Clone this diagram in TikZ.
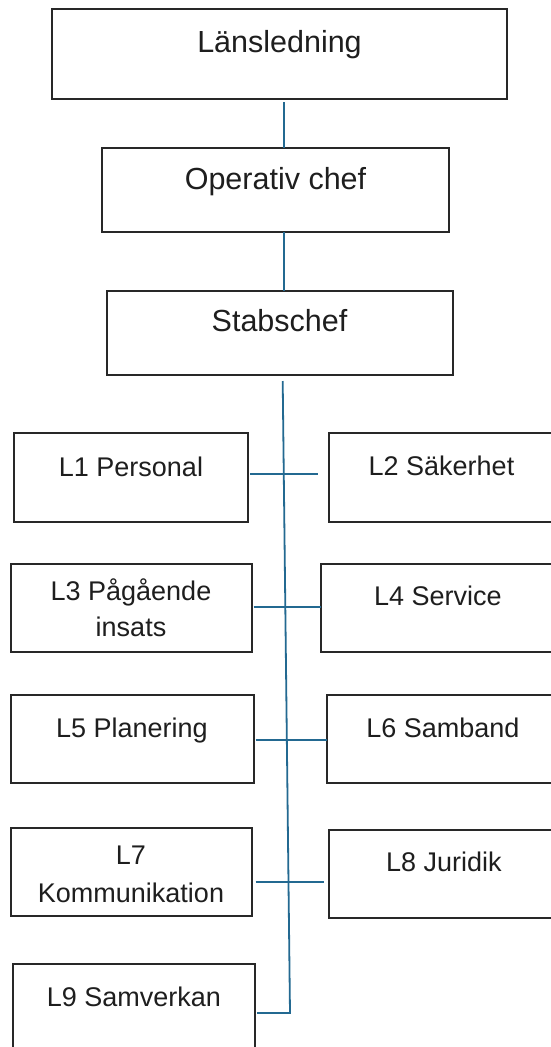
\documentclass[tikz,border=0pt]{standalone}
\usepackage{fontspec}
\setmainfont{Liberation Sans}
\definecolor{connc}{RGB}{35,105,145}
\definecolor{edgec}{RGB}{40,40,40}
\definecolor{inkc}{RGB}{30,30,30}
\begin{document}
\begin{tikzpicture}[x=1pt,y=-1pt,
  box/.style={draw=edgec, line width=2pt, rectangle, inner sep=0pt, outer sep=0pt, minimum height=88pt},
  bigtxt/.style={font=\fontsize{30.5}{36}\selectfont, text=inkc, anchor=base, inner sep=0pt},
  smalltxt/.style={font=\fontsize{27}{37.5}\selectfont, text=inkc, anchor=base, inner sep=0pt, align=center},
  link/.style={draw=connc, line width=1.8pt}]
\useasboundingbox (0,0) rectangle (551,1047);
\fill[white] (0,0) rectangle (551,1047);

% top chain
\node[box, minimum width=455pt, minimum height=90pt] (lan) at (279.5,54) {};
\node[bigtxt] (lant) at (279.5,52.3) {Länsledning};
\node[box, minimum width=347pt, minimum height=84pt] (op) at (275.5,190) {};
\node[bigtxt] (opt) at (275.5,189) {Operativ chef};
\node[box, minimum width=346pt, minimum height=84pt] (st) at (279.5,333) {};
\node[bigtxt] (stt) at (279.5,331) {Stabschef};

% left column
\node[box, minimum width=234pt, minimum height=89pt] (l1) at (131,477.5) {};
\node[smalltxt] (l1t) at (131,476) {L1 Personal};
\node[box, minimum width=241pt] (l3) at (131,608) {};
\node[smalltxt, font=\fontsize{27}{36.7}\selectfont] (l3t) at (131,636.7) {L3 Pågående\\insats};
\node[box, minimum width=243pt] (l5) at (132,739) {};
\node[smalltxt] (l5t) at (132,737.3) {L5 Planering};
\node[box, minimum width=241pt] (l7) at (131,872) {};
\node[smalltxt, font=\fontsize{27}{38.7}\selectfont] (l7t) at (131,902.7) {L7\\Kommunikation};
\node[box, minimum width=242.4pt] (l9) at (133.8,1008) {};
\node[smalltxt] (l9t) at (133.8,1006.7) {L9 Samverkan};

% right column
\node[box, minimum width=225pt, minimum height=89pt] (l2) at (441.5,477.5) {};
\node[smalltxt] (l2t) at (441.5,475) {L2 Säkerhet};
\node[box, minimum width=234pt] (l4) at (438,608) {};
\node[smalltxt] (l4t) at (438,605.7) {L4 Service};
\node[box, minimum width=232pt] (l6) at (443,739) {};
\node[smalltxt] (l6t) at (443,737.3) {L6 Samband};
\node[box, minimum width=230pt] (l8) at (444,874) {};
\node[smalltxt] (l8t) at (444,871.7) {L8 Juridik};

% connectors
\coordinate (cx) at (284,0);
\draw[link] ([yshift=-3pt]lan.south -| cx) -- (op.north -| cx);
\draw[link] (op.south -| cx) -- (st.north -| cx);
\coordinate (tt) at (282.7,0);
\coordinate (tb) at (290,1013);
\draw[link] ([yshift=-6pt]st.south -| tt) -- (tb) -- ([xshift=2pt]l9.east |- tb);

\coordinate (r1) at (0,474);
\coordinate (r2) at (0,607.3);
\coordinate (r3) at (0,740);
\coordinate (r4) at (0,882.3);
\draw[link] ([xshift=2pt]l1.east |- r1) -- ([xshift=-11pt]l2.west |- r1);
\draw[link] ([xshift=2pt]l3.east |- r2) -- (l4.west |- r2);
\draw[link] ([xshift=2pt]l5.east |- r3) -- (l6.west |- r3);
\draw[link] ([xshift=4pt]l7.east |- r4) -- ([xshift=-5pt]l8.west |- r4);
\end{tikzpicture}
\end{document}
